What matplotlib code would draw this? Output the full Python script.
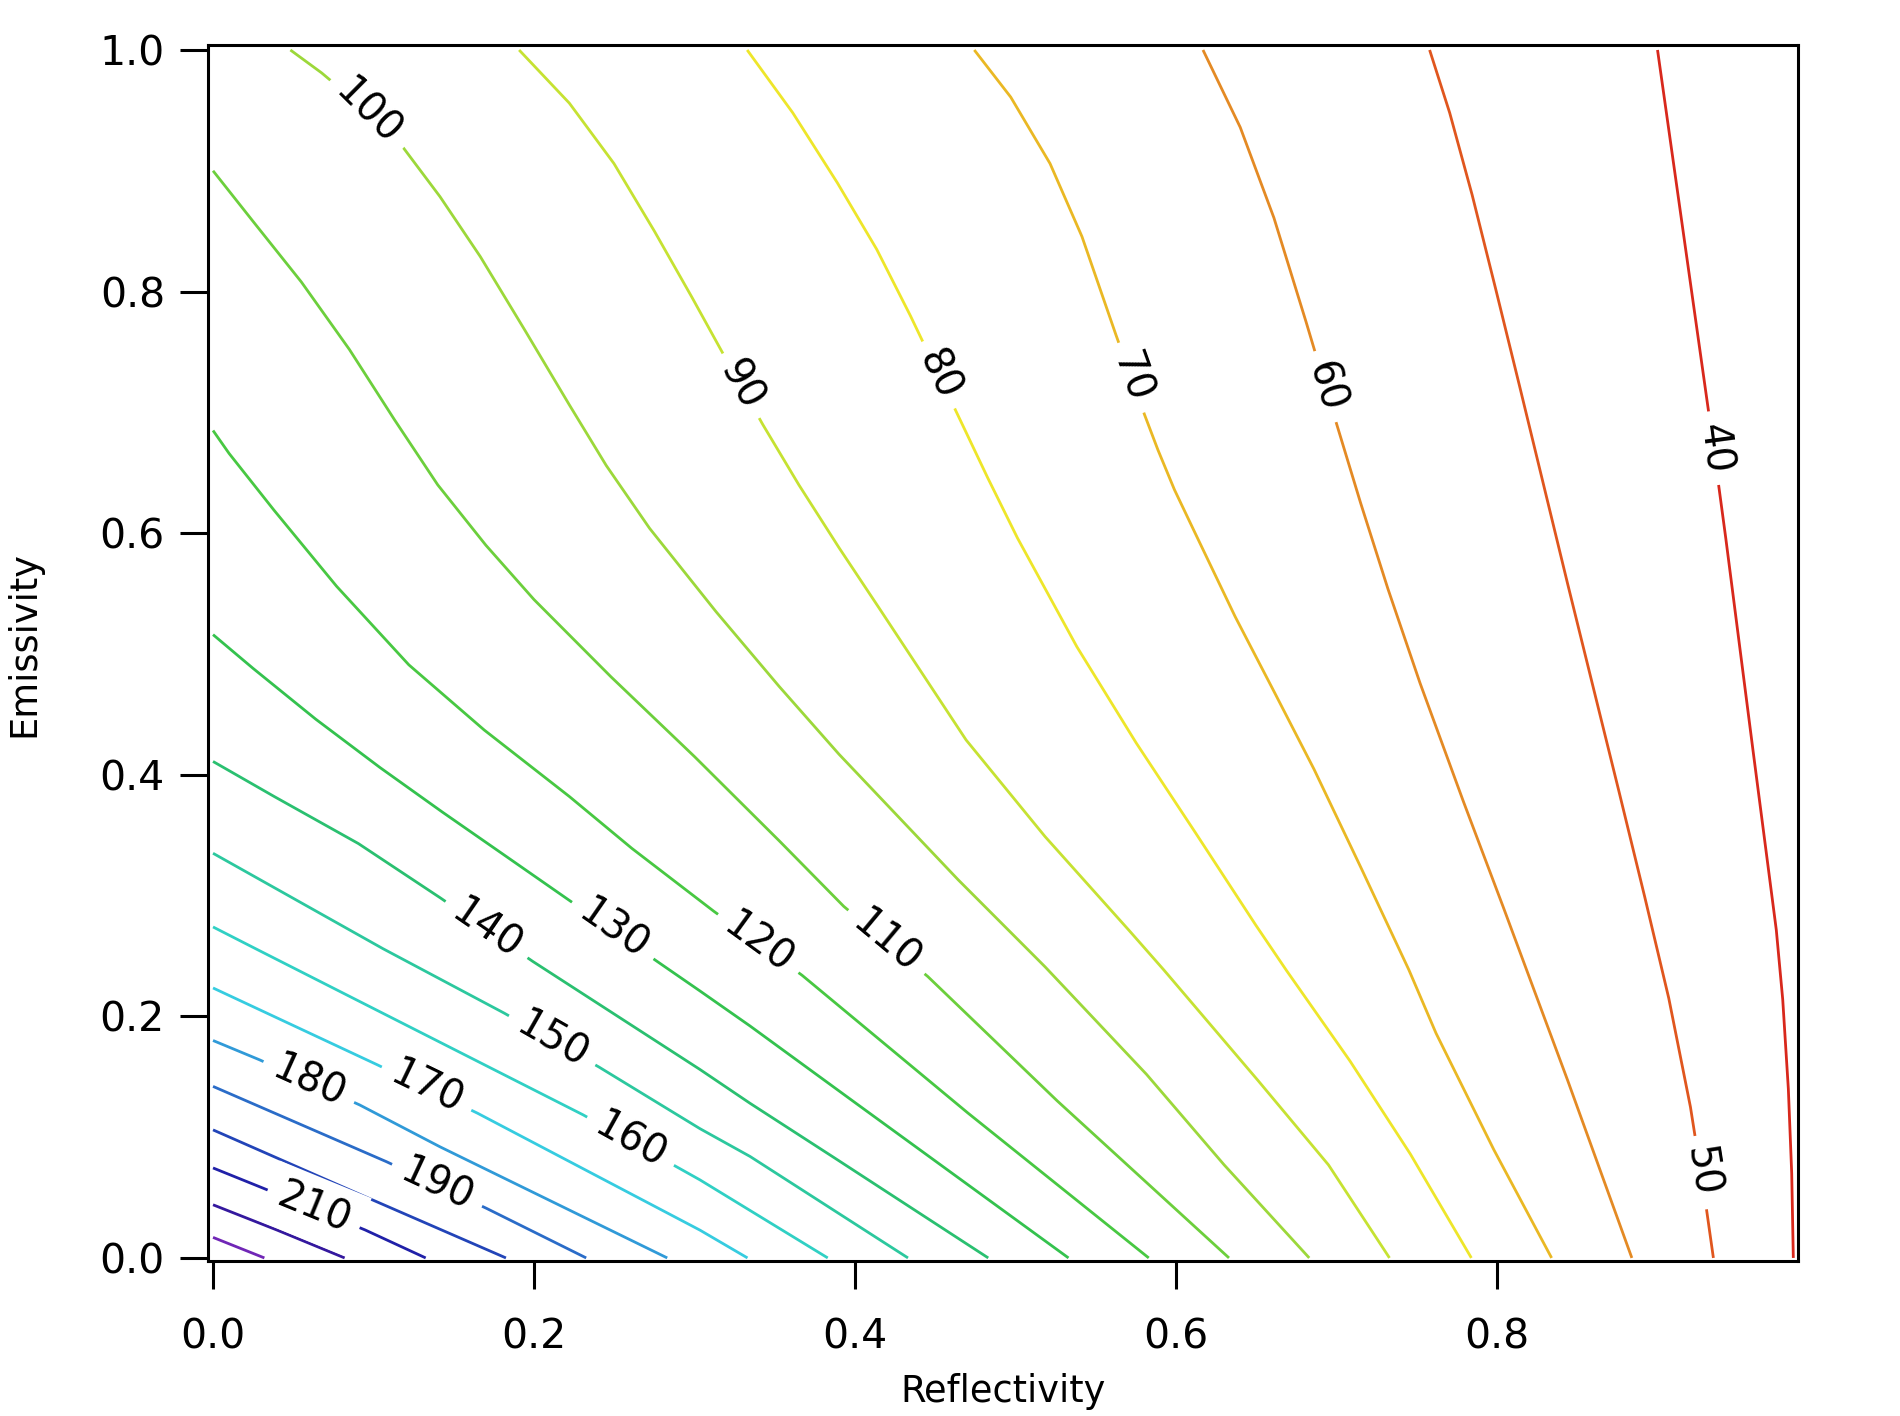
import numpy as np
import matplotlib.pyplot as plt

# contour levels and the traced path of each one (reflectivity r, emissivity e)
levels = [40, 50, 60, 70, 80, 90, 100, 110, 120, 130, 140, 150, 160, 170, 180, 190, 200, 210, 220, 230]

r_40 = [0.900, 0.9085, 0.917, 0.9255, 0.934, 0.9425, 0.951, 0.9595, 0.968, 0.974, 0.978, 0.9815, 0.9836, 0.9846]
e_40 = [1.000, 0.920, 0.840, 0.760, 0.680, 0.596, 0.508, 0.420, 0.333, 0.2715, 0.214, 0.140, 0.070, 0.000]
r_50 = [0.758, 0.7705, 0.7845, 0.799, 0.814, 0.829, 0.844, 0.860, 0.876, 0.892, 0.907, 0.9205, 0.930, 0.9348]
e_50 = [1.000, 0.948, 0.880, 0.803, 0.722, 0.640, 0.558, 0.472, 0.386, 0.299, 0.215, 0.125, 0.045, 0.000]
r_60 = [0.6168, 0.640, 0.661, 0.681, 0.699, 0.715, 0.732, 0.752, 0.779, 0.804, 0.844, 0.884]
e_60 = [1.000, 0.936, 0.861, 0.775, 0.695, 0.625, 0.554, 0.476, 0.378, 0.290, 0.147, 0.000]
r_70 = [0.4743, 0.497, 0.5215, 0.5414, 0.5626, 0.5804, 0.5887, 0.599, 0.6121, 0.6368, 0.6614, 0.686,
        0.7156, 0.7451, 0.762, 0.798, 0.834]
e_70 = [1.000, 0.961, 0.906, 0.8455, 0.764, 0.698, 0.669, 0.636, 0.5995, 0.531, 0.468, 0.4045,
        0.322, 0.2384, 0.186, 0.0896, 0.000]
r_80 = [0.3328, 0.3612, 0.389, 0.4135, 0.4345, 0.4525, 0.469, 0.4826, 0.5012, 0.5382, 0.5751, 0.6121,
        0.6497, 0.6688, 0.7084, 0.746, 0.784]
e_80 = [1.000, 0.948, 0.890, 0.835, 0.780, 0.730, 0.684, 0.646, 0.596, 0.506, 0.4265, 0.352,
        0.2755, 0.238, 0.163, 0.086, 0.000]
r_90 = [0.1907, 0.222, 0.2498, 0.275, 0.2985, 0.3205, 0.3425, 0.365, 0.390, 0.415, 0.4692, 0.5184,
        0.5705, 0.5924, 0.651, 0.695, 0.733]
e_90 = [1.000, 0.956, 0.906, 0.850, 0.795, 0.742, 0.690, 0.640, 0.588, 0.538, 0.4288, 0.3488,
        0.2715, 0.2384, 0.147, 0.077, 0.000]
r_100 = [0.0482, 0.0677, 0.0936, 0.1186, 0.1414, 0.1665, 0.1943, 0.2221, 0.245, 0.272, 0.3134, 0.3528,
         0.390, 0.430, 0.4643, 0.5184, 0.5816, 0.630, 0.683]
e_100 = [1.000, 0.981, 0.952, 0.919, 0.8786, 0.829, 0.768, 0.706, 0.656, 0.604, 0.535, 0.473,
         0.417, 0.361, 0.313, 0.241, 0.152, 0.077, 0.000]
r_110 = [0.000, 0.025, 0.055, 0.085, 0.113, 0.140, 0.170, 0.200, 0.248, 0.300, 0.353, 0.393,
         0.4453, 0.526, 0.633]
e_110 = [0.900, 0.858, 0.808, 0.752, 0.694, 0.640, 0.590, 0.545, 0.481, 0.415, 0.345, 0.291,
         0.233, 0.130, 0.000]
r_120 = [0.000, 0.010, 0.038, 0.077, 0.122, 0.169, 0.222, 0.261, 0.312, 0.367, 0.4703, 0.583]
e_120 = [0.685, 0.666, 0.619, 0.556, 0.491, 0.437, 0.382, 0.339, 0.287, 0.234, 0.120, 0.000]
r_130 = [0.000, 0.025, 0.064, 0.104, 0.143, 0.182, 0.222, 0.2783, 0.3034, 0.3346, 0.4006, 0.533]
e_130 = [0.516, 0.488, 0.446, 0.406, 0.369, 0.333, 0.296, 0.244, 0.221, 0.192, 0.128, 0.000]
r_140 = [0.000, 0.0381, 0.0906, 0.1417, 0.1993, 0.3034, 0.3346, 0.387, 0.483]
e_140 = [0.411, 0.382, 0.343, 0.298, 0.2454, 0.156, 0.128, 0.083, 0.000]
r_150 = [0.000, 0.1059, 0.1815, 0.2405, 0.3034, 0.3346, 0.433]
e_150 = [0.335, 0.256, 0.2026, 0.158, 0.107, 0.084, 0.000]
r_160 = [0.000, 0.028, 0.2305, 0.2905, 0.3034, 0.383]
e_160 = [0.274, 0.255, 0.1185, 0.0742, 0.0646, 0.000]
r_170 = [0.000, 0.1025, 0.1648, 0.3034, 0.333]
e_170 = [0.2235, 0.1598, 0.1198, 0.023, 0.000]
r_180 = [0.000, 0.029, 0.0913, 0.1414, 0.283]
e_180 = [0.180, 0.164, 0.1267, 0.092, 0.000]
r_190 = [0.000, 0.108, 0.1703, 0.2325]
e_190 = [0.142, 0.0797, 0.0411, 0.000]
r_200 = [0.000, 0.097, 0.1825]
e_200 = [0.106, 0.0494, 0.000]
r_210 = [0.000, 0.0313, 0.0947, 0.1325]
e_210 = [0.0745, 0.0577, 0.0232, 0.000]
r_220 = [0.000, 0.040, 0.082]
e_220 = [0.044, 0.023, 0.000]
r_230 = [0.000, 0.032]
e_230 = [0.017, 0.000]

# where the in-line labels sit
label_levels = [100, 90, 80, 70, 60, 40, 50, 110, 120, 130, 140, 150, 160, 170, 180, 190, 210]
label_r = [0.0936, 0.333, 0.4506, 0.5706, 0.6898, 0.933, 0.924, 0.418, 0.339, 0.248, 0.169,
           0.2106, 0.2596, 0.1313, 0.0596, 0.1389, 0.0619]
label_e = [0.944, 0.725, 0.730, 0.728, 0.720, 0.670, 0.070, 0.259, 0.259, 0.269, 0.269,
           0.1785, 0.0953, 0.1354, 0.1454, 0.0582, 0.0381]

x_ticks = [0.0, 0.2, 0.4, 0.6, 0.8]
y_ticks = [0.0, 0.2, 0.4, 0.6, 0.8, 1.0]

line_colors = {
    40: '#d8281c', 50: '#e0561e', 60: '#e48a24', 70: '#eab824', 80: '#eee62a',
    90: '#c6e232', 100: '#9cd83a', 110: '#6ccf3c', 120: '#48c842', 130: '#34c24e',
    140: '#2ac070', 150: '#2cc89e', 160: '#30d0c4', 170: '#36cce0', 180: '#309ad8',
    190: '#2a6cc8', 200: '#2244b8', 210: '#2020a8', 220: '#34189e', 230: '#7026b6',
}

paths = {
    40: (r_40, e_40), 50: (r_50, e_50), 60: (r_60, e_60), 70: (r_70, e_70),
    80: (r_80, e_80), 90: (r_90, e_90), 100: (r_100, e_100), 110: (r_110, e_110),
    120: (r_120, e_120), 130: (r_130, e_130), 140: (r_140, e_140), 150: (r_150, e_150),
    160: (r_160, e_160), 170: (r_170, e_170), 180: (r_180, e_180), 190: (r_190, e_190),
    200: (r_200, e_200), 210: (r_210, e_210), 220: (r_220, e_220), 230: (r_230, e_230),
}

plt.rcParams['font.family'] = ['DejaVu Sans']

fig = plt.figure(figsize=(19, 14.16), dpi=100)
ax = fig.add_axes([0.1095, 0.1095, 0.8368, 0.8587])
ax.set_xlim(-0.0031, 0.9875)
ax.set_ylim(-0.0025, 1.0041)

for lev in levels:
    r, e = paths[lev]
    ax.plot(r, e, color=line_colors[lev], lw=2.0, solid_capstyle='butt', solid_joinstyle='round')


def place_label(lev, r0, e0):
    # snap the label onto the nearest segment and turn it along the line
    r, e = paths[lev]
    pts = ax.transData.transform(np.column_stack([r, e]))
    p = ax.transData.transform((r0, e0))
    best = None
    for i in range(len(pts) - 1):
        a, b = pts[i], pts[i + 1]
        d = b - a
        t = np.clip(np.dot(p - a, d) / np.dot(d, d), 0, 1)
        q = a + t * d
        dist = np.hypot(*(p - q))
        if best is None or dist < best[0]:
            best = (dist, q, d)
    _, q, d = best
    angle = np.degrees(np.arctan2(d[1], d[0]))
    qx, qy = ax.transData.inverted().transform(q)
    ax.text(qx, qy, str(lev), rotation=angle, rotation_mode='anchor',
            ha='center', va='center', fontsize=28.5, zorder=5,
            bbox=dict(boxstyle='square,pad=0.3', fc='white', ec='none'))


for lev, r0, e0 in zip(label_levels, label_r, label_e):
    place_label(lev, r0, e0)

ax.set_xticks(x_ticks)
ax.set_yticks(y_ticks)
ax.set_xticklabels(['%.1f' % v for v in x_ticks])
ax.set_yticklabels(['%.1f' % v for v in y_ticks])
ax.tick_params(direction='out', length=20, width=2.2, labelsize=29.5)
ax.tick_params(axis='x', pad=21)
ax.tick_params(axis='y', pad=11)
for sp in ax.spines.values():
    sp.set_linewidth(2.2)

ax.set_xlabel('Reflectivity', fontsize=26.5)
ax.set_ylabel('Emissivity', fontsize=26.5)
ax.xaxis.set_label_coords(0.5, -0.092)
ax.yaxis.set_label_coords(-0.1044, 0.507)

fig.savefig('out.png', dpi=100)
